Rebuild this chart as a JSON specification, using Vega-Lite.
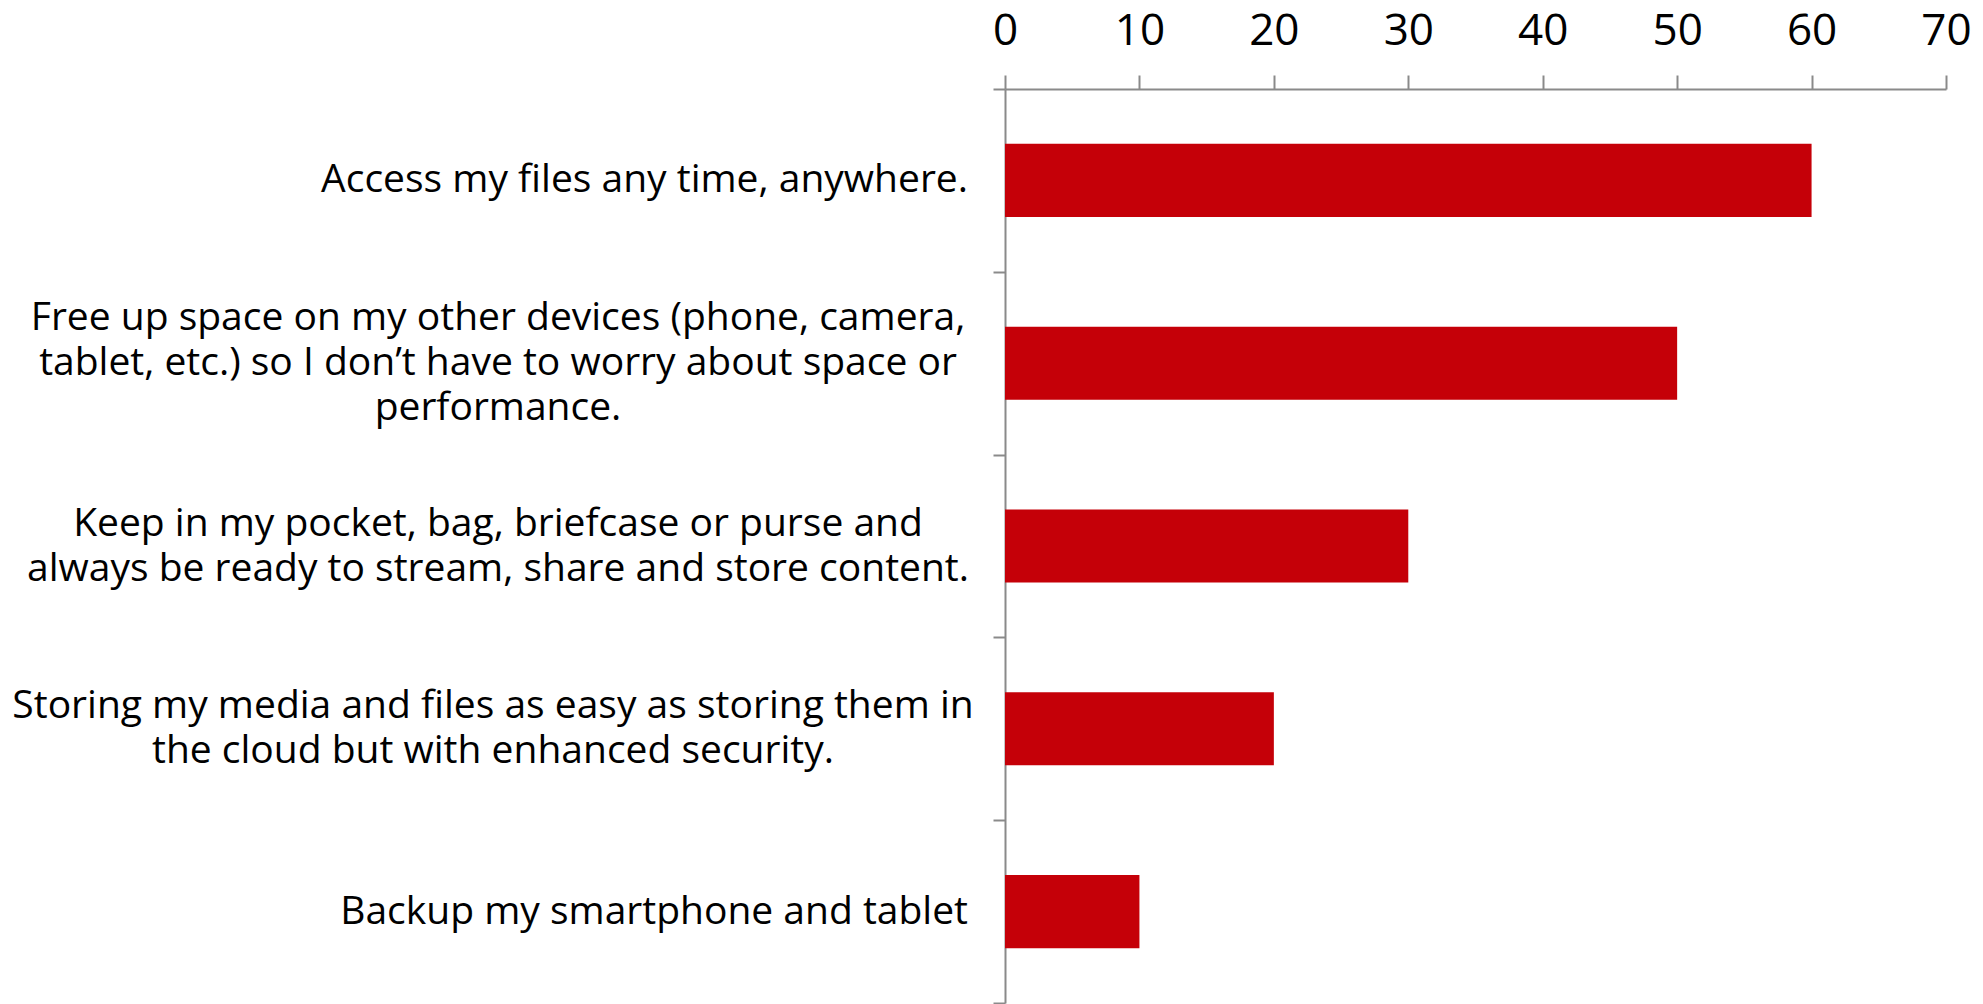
{
  "$schema": "https://vega.github.io/schema/vega-lite/v6.json",
  "width": 941,
  "height": 914,
  "autosize": {"type": "none"},
  "padding": {"left": 1005, "top": 89, "right": 37, "bottom": 1},
  "background": "white",
  "data": {
    "values": [
      {"reason": "Access my files any time, anywhere.", "value": 60},
      {"reason": "Free up space on my other devices (phone, camera,\ntablet, etc.) so I don’t have to worry about space or\nperformance.", "value": 50},
      {"reason": "Keep in my pocket, bag, briefcase or purse and\nalways be ready to stream, share and store content.", "value": 30},
      {"reason": "Storing my media and files as easy as storing them in\nthe cloud but with enhanced security.", "value": 20},
      {"reason": "Backup my smartphone and tablet", "value": 10}
    ]
  },
  "encoding": {
    "y": {
      "field": "reason",
      "type": "nominal",
      "sort": null,
      "scale": {"paddingInner": 0, "paddingOuter": 0},
      "axis": {
        "title": null,
        "orient": "left",
        "labels": false,
        "tickBand": "extent",
        "tickSize": 12,
        "tickColor": "#8a8a8a",
        "tickWidth": 2,
        "domainColor": "#8a8a8a",
        "domainWidth": 2
      }
    }
  },
  "layer": [
    {
      "mark": {"type": "bar", "color": "#C50008", "height": {"band": 0.4}},
      "encoding": {
        "x": {
          "field": "value",
          "type": "quantitative",
          "scale": {"domain": [0, 70], "nice": false},
          "axis": {
            "title": null,
            "orient": "top",
            "values": [0, 10, 20, 30, 40, 50, 60, 70],
            "grid": false,
            "tickSize": 14,
            "tickColor": "#8a8a8a",
            "tickWidth": 2,
            "domainColor": "#8a8a8a",
            "domainWidth": 2,
            "labelFont": "Open Sans",
            "labelFontSize": 44,
            "labelColor": "#000000",
            "labelPadding": 31,
            "labelBaseline": "alphabetic",
            "labelFlush": false,
            "labelOverlap": false
          }
        }
      }
    },
    {
      "mark": {"type": "text", "font": "Open Sans", "fontSize": 39, "color": "#000000", "align": "right", "baseline": "middle", "dx": -37},
      "encoding": {
        "x": {"datum": 0, "type": "quantitative"},
        "text": {"condition": {"test": "indexof(datum.reason, 'Access') == 0 || indexof(datum.reason, 'Backup') == 0", "field": "reason"}, "value": ""}
      }
    },
    {
      "mark": {"type": "text", "font": "Open Sans", "fontSize": 39, "color": "#000000", "align": "center", "baseline": "middle", "lineBreak": "\n", "lineHeight": 45, "dx": -507, "dy": -45},
      "encoding": {
        "x": {"datum": 0, "type": "quantitative"},
        "text": {"condition": {"test": "indexof(datum.reason, 'Free up') == 0", "field": "reason"}, "value": ""}
      }
    },
    {
      "mark": {"type": "text", "font": "Open Sans", "fontSize": 39, "color": "#000000", "align": "center", "baseline": "middle", "lineBreak": "\n", "lineHeight": 45, "dx": -507, "dy": -22.5},
      "encoding": {
        "x": {"datum": 0, "type": "quantitative"},
        "text": {"condition": {"test": "indexof(datum.reason, 'Keep') == 0", "field": "reason"}, "value": ""}
      }
    },
    {
      "mark": {"type": "text", "font": "Open Sans", "fontSize": 39, "color": "#000000", "align": "center", "baseline": "middle", "lineBreak": "\n", "lineHeight": 45, "dx": -512, "dy": -22.5},
      "encoding": {
        "x": {"datum": 0, "type": "quantitative"},
        "text": {"condition": {"test": "indexof(datum.reason, 'Storing') == 0", "field": "reason"}, "value": ""}
      }
    }
  ],
  "config": {"view": {"stroke": null}}
}
